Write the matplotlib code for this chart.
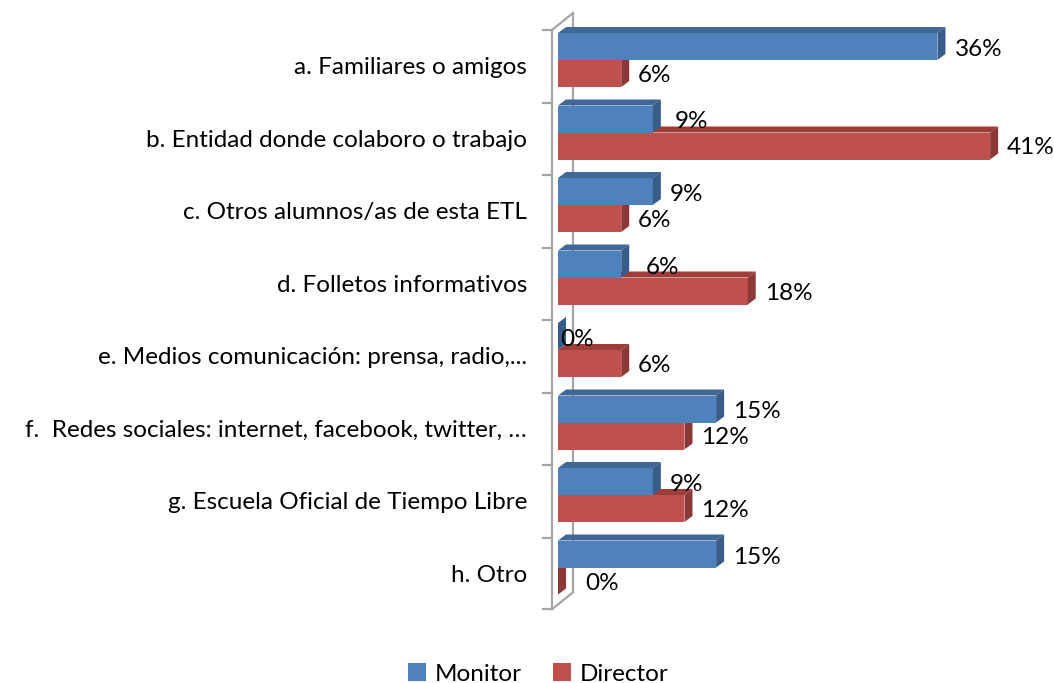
import matplotlib
matplotlib.use("Agg")
import matplotlib.pyplot as plt
from matplotlib.patches import Polygon, Patch

categories = [
    "a. Familiares o amigos",
    "b. Entidad donde colaboro o trabajo",
    "c. Otros alumnos/as de esta ETL",
    "d. Folletos informativos",
    "e. Medios comunicación: prensa, radio,...",
    "f.  Redes sociales: internet, facebook, twitter, …",
    "g. Escuela Oficial de Tiempo Libre",
    "h. Otro",
]
monitor = [36, 9, 9, 6, 0, 15, 9, 15]
director = [6, 41, 6, 18, 6, 12, 12, 0]
series_names = ["Monitor", "Director"]

# label nudges (pixels), styling only
monitor_nudge = [0, 5, 0, 8, -15, 0, 0, 0]
director_nudge = [0, 0, 0, 0, 0, 0, 0, 10]

FONT = "Lato"
plt.rcParams["font.family"] = [FONT, "DejaVu Sans"]
FS = 17.5

W, H = 1054, 683
fig = plt.figure(figsize=(W / 100, H / 100), dpi=100)

px_per_unit = 10.54
x0_px = 558
xmin, xmax = -1.5, 44.5
left_px = x0_px + xmin * px_per_unit
right_px = x0_px + xmax * px_per_unit
top_px, bot_px = 30, 610
ax = fig.add_axes([left_px / W, 1 - bot_px / H, (right_px - left_px) / W, (bot_px - top_px) / H])
n = len(categories)
ax.set_xlim(xmin, xmax)
ax.set_ylim(n - 0.5, -0.5)
ax.axis("off")

py_per_unit = (bot_px - top_px) / n
dx = 8 / px_per_unit
dy = 6 / py_per_unit
bar_h = 27 / py_per_unit

colors = {
    "Monitor": ("#4F81BD", "#3F6896", "#385D8A"),
    "Director": ("#C0504D", "#9E3E3B", "#8C3836"),
}

wall_c = "#A6A6A6"
fx = -6 / px_per_unit
bx = 15 / px_per_unit
by = 17 / py_per_unit
ax.plot([fx, fx], [-0.5, n - 0.5 - 0.01], color=wall_c, lw=1.6, clip_on=False, zorder=1)
ax.plot([bx, bx], [-0.5 - by, n - 0.5 - by - 0.01], color=wall_c, lw=1.6, clip_on=False, zorder=1)
ax.plot([fx, bx], [-0.5, -0.5 - by], color=wall_c, lw=1.6, clip_on=False, zorder=1)
ax.plot([fx, bx], [n - 0.5 - 0.01, n - 0.5 - by - 0.01], color=wall_c, lw=1.6, clip_on=False, zorder=1)
for i in range(n + 1):
    yb = i - 0.5 - (0.01 if i == n else 0)
    ax.plot([fx - 9 / px_per_unit, fx], [yb, yb], color=wall_c, lw=1.6, clip_on=False, zorder=1)


def bar3d(v, top, name, z):
    front, topc, side = colors[name]
    bot = top + bar_h
    ax.add_patch(Polygon([(0, top), (v, top), (v, bot), (0, bot)], closed=True,
                         facecolor=front, edgecolor="none", zorder=z, clip_on=False))
    ax.add_patch(Polygon([(0, top), (v, top), (v + dx, top - dy), (dx, top - dy)], closed=True,
                         facecolor=topc, edgecolor="none", zorder=z, clip_on=False))
    ax.add_patch(Polygon([(v, top), (v + dx, top - dy), (v + dx, bot - dy), (v, bot)], closed=True,
                         facecolor=side, edgecolor="none", zorder=z, clip_on=False))


lab_off = 17 / px_per_unit
for i in range(n):
    top_b = i - 0.5 + 3 / py_per_unit
    top_r = top_b + bar_h
    bar3d(director[i], top_r, "Director", 2 + i * 0.01)
    bar3d(monitor[i], top_b, "Monitor", 3 + i * 0.01)
    ax.text(monitor[i] + lab_off + monitor_nudge[i] / px_per_unit,
            top_b + bar_h / 2 + 3 / py_per_unit, f"{monitor[i]}%",
            ha="left", va="center", fontsize=FS, color="black", zorder=5)
    ax.text(director[i] + lab_off + director_nudge[i] / px_per_unit,
            top_r + bar_h / 2 + 2 / py_per_unit, f"{director[i]}%",
            ha="left", va="center", fontsize=FS, color="black", zorder=5)
    ax.text(-(558 - 527) / px_per_unit, i + 0.02, categories[i], ha="right", va="center",
            fontsize=FS, color="black", clip_on=False)

handles = [Patch(facecolor=colors[s][0], edgecolor="none") for s in series_names]
fig.legend(handles, series_names, loc="center", bbox_to_anchor=(538 / W, 1 - 674 / H),
           ncol=2, frameon=False, fontsize=FS, handlelength=0.75, handleheight=0.75,
           handletextpad=0.35, columnspacing=1.3)

fig.savefig("out.png", dpi=100)
